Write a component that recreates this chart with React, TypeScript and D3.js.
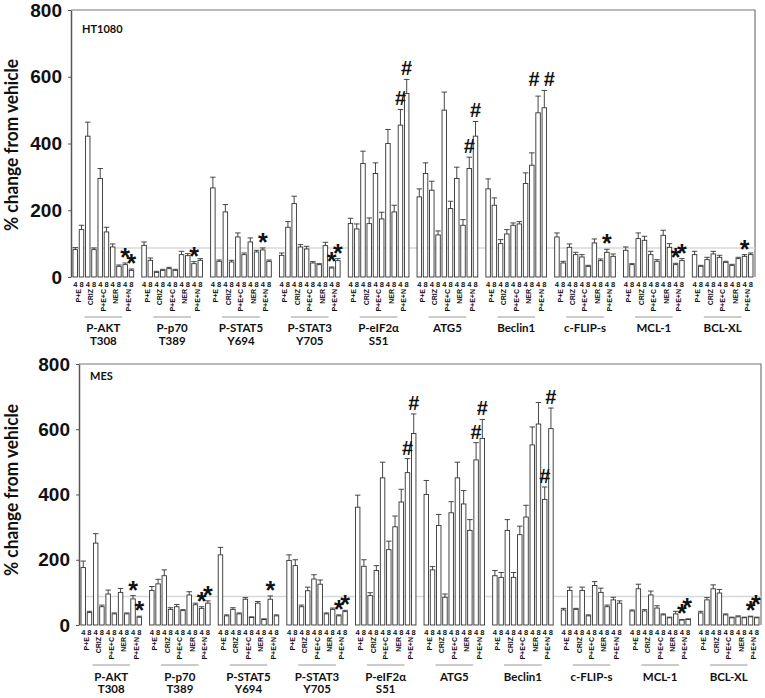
import React, { useEffect, useRef } from 'react';
import * as d3 from 'd3';

// groups along the x axis
const groupNames = ['P-AKT', 'P-p70', 'P-STAT5', 'P-STAT3', 'P-eIF2α', 'ATG5', 'Beclin1', 'c-FLIP-s', 'MCL-1', 'BCL-XL'];
const groupSites = ['T308', 'T389', 'Y694', 'Y705', 'S51', '', '', '', '', ''];
const treatments = ['P+E', 'CRIZ', 'P+E+C', 'NER', 'P+E+N'];
const timepoints = ['4', '8'];
const yTicks = [0, 200, 400, 600, 800];
const refValue = 87;

// HT1080 panel: mean % change per group, bars ordered treatment x timepoint
const htMeans = [
  [82, 142, 422, 82, 295, 135, 90, 32, 37, 20],
  [95, 50, 14, 20, 25, 20, 67, 64, 40, 50],
  [267, 47, 195, 45, 120, 67, 105, 75, 81, 47],
  [65, 149, 220, 90, 84, 42, 37, 94, 27, 49],
  [160, 144, 340, 160, 310, 174, 400, 195, 455, 550],
  [240, 310, 260, 126, 500, 205, 295, 155, 325, 422],
  [264, 215, 100, 129, 155, 159, 280, 335, 492, 507],
  [120, 42, 89, 67, 60, 32, 102, 49, 74, 62],
  [80, 37, 115, 110, 67, 47, 125, 89, 37, 49],
  [67, 32, 52, 69, 59, 44, 35, 55, 62, 67],
];
const htErrs = [
  [6, 13, 42, 5, 30, 14, 9, 4, 5, 4],
  [10, 7, 3, 3, 4, 3, 10, 6, 6, 5],
  [32, 4, 22, 5, 12, 5, 12, 5, 6, 4],
  [7, 17, 22, 7, 8, 4, 3, 10, 3, 6],
  [16, 15, 37, 17, 32, 20, 42, 20, 47, 42],
  [24, 32, 27, 12, 54, 22, 34, 17, 34, 44],
  [30, 22, 12, 13, 7, 7, 32, 37, 50, 52],
  [12, 5, 10, 7, 7, 3, 12, 5, 9, 7],
  [10, 3, 17, 12, 10, 5, 15, 11, 4, 6],
  [10, 3, 7, 8, 6, 3, 3, 4, 5, 5],
];
const htMarks = [
  '........**', '........*.', '........*.', '........**', '........##',
  '........##', '........##', '........*.', '........**', '........*.',
];

// MES panel
const mesMeans = [
  [176, 38, 251, 56, 95, 34, 100, 34, 80, 24],
  [106, 126, 151, 48, 56, 44, 92, 62, 51, 67],
  [215, 28, 48, 34, 79, 23, 67, 17, 79, 28],
  [198, 182, 56, 105, 141, 125, 34, 48, 28, 41],
  [361, 180, 90, 167, 451, 231, 301, 377, 467, 587],
  [400, 169, 305, 85, 344, 451, 371, 290, 506, 572],
  [151, 146, 290, 146, 277, 331, 552, 616, 385, 602],
  [46, 106, 48, 106, 28, 121, 100, 56, 77, 67],
  [43, 111, 43, 92, 52, 31, 22, 34, 15, 17],
  [37, 77, 111, 98, 31, 22, 25, 22, 25, 22],
];
const mesErrs = [
  [20, 4, 29, 5, 12, 3, 12, 3, 10, 3],
  [12, 14, 18, 5, 7, 3, 10, 5, 5, 7],
  [23, 3, 5, 3, 5, 2, 5, 2, 10, 3],
  [17, 18, 5, 11, 13, 13, 3, 4, 3, 4],
  [37, 20, 9, 15, 48, 26, 33, 39, 43, 60],
  [43, 10, 34, 10, 34, 48, 41, 33, 53, 58],
  [16, 15, 33, 15, 26, 36, 55, 66, 38, 63],
  [5, 10, 3, 10, 3, 12, 13, 5, 8, 7],
  [3, 14, 4, 12, 7, 3, 2, 8, 2, 2],
  [5, 7, 12, 11, 3, 2, 3, 2, 2, 2],
];
const mesMarks = [
  '........**', '........**', '........*.', '........**', '........##',
  '........##', '........##', '..........', '........**', '........**',
];

const panels = [
  { name: 'HT1080', means: htMeans, errs: htErrs, marks: htMarks,
    x0: 71, x1: 755, yTop: 10, yBot: 277, titleY: 145, nameX: 82, nameY: 33,
    lineY: 317, labY: 332, siteY: 345 },
  { name: 'MES', means: mesMeans, errs: mesErrs, marks: mesMarks,
    x0: 79, x1: 761, yTop: 364, yBot: 625, titleY: 490, nameX: 90, nameY: 380,
    lineY: 665, labY: 681, siteY: 693 },
];

const App = () => {
  const chartRef = useRef(null);

  useEffect(() => {
    document.body.style.margin = '0';
    d3.select(chartRef.current).selectAll('*').remove();

    const svg = d3
      .select(chartRef.current)
      .append('svg')
      .attr('width', 765)
      .attr('height', 698)
      .style('display', 'block')
      .style('background', '#fff');

    panels.forEach(p => {
      const g = svg.append('g');

      const gx = d3.scaleBand().domain(groupNames).range([p.x0, p.x1]).paddingInner(0.1).paddingOuter(0.02);
      const bx = d3.scaleBand().domain(d3.range(10)).range([0, gx.bandwidth()]).paddingInner(0.28).paddingOuter(0.1);
      const y = d3.scaleLinear().domain([0, 800]).range([p.yBot, p.yTop]);
      const bw = bx.bandwidth();

      // frame (top and right)
      g.append('path')
        .attr('d', `M${p.x0},${p.yTop}H${p.x1}V${p.yBot}`)
        .attr('fill', 'none')
        .attr('stroke', '#777')
        .attr('stroke-width', 1.2);

      // reference line
      g.append('line')
        .attr('x1', p.x0).attr('x2', p.x1)
        .attr('y1', y(refValue)).attr('y2', y(refValue))
        .attr('stroke', '#d8d8d8')
        .attr('stroke-width', 1.5);

      // y axis
      const axis = g.append('g')
        .attr('transform', `translate(${p.x0},0)`)
        .call(d3.axisLeft(y).tickValues(yTicks).tickSize(3).tickPadding(6).tickSizeOuter(0));
      axis.select('.domain').attr('stroke', '#555').attr('stroke-width', 1.5);
      axis.selectAll('.tick line').attr('stroke', '#555');
      axis.selectAll('.tick text')
        .attr('fill', '#111')
        .style('font-size', '19px')
        .style('font-weight', 'bold')
        .style('font-family', "'Liberation Sans', Arial, sans-serif");

      g.append('text')
        .attr('transform', `translate(18,${p.titleY}) rotate(-90)`)
        .attr('text-anchor', 'middle')
        .attr('textLength', 172)
        .attr('lengthAdjust', 'spacingAndGlyphs')
        .style('font-size', '18px')
        .style('font-family', "Lato, 'Open Sans', sans-serif")
        .style('font-weight', 'bold')
        .attr('fill', '#111')
        .text('% change from vehicle');

      g.append('text')
        .attr('x', p.nameX)
        .attr('y', p.nameY)
        .style('font-size', '11px')
        .style('font-weight', 'bold')
        .style('font-family', "Lato, 'Open Sans', sans-serif")
        .attr('fill', '#111')
        .text(p.name);

      groupNames.forEach((gn, gi) => {
        const gg = g.append('g').attr('transform', `translate(${gx(gn)},0)`);
        const means = p.means[gi];
        const errs = p.errs[gi];

        // bars
        gg.selectAll('rect.bar')
          .data(means)
          .enter()
          .append('rect')
          .attr('class', 'bar')
          .attr('x', (d, i) => bx(i))
          .attr('y', d => y(d))
          .attr('width', bw)
          .attr('height', d => y(0) - y(d))
          .attr('fill', '#fff')
          .attr('stroke', '#333')
          .attr('stroke-width', 0.9);

        // error bars
        const eb = gg.selectAll('g.err')
          .data(means.map((m, i) => ({ m, e: errs[i], i })))
          .enter()
          .append('g')
          .attr('class', 'err')
          .attr('stroke', '#333')
          .attr('stroke-width', 0.9);
        eb.append('line')
          .attr('x1', d => bx(d.i) + bw / 2).attr('x2', d => bx(d.i) + bw / 2)
          .attr('y1', d => y(d.m)).attr('y2', d => y(d.m + d.e));
        eb.append('line')
          .attr('x1', d => bx(d.i) - 0.5).attr('x2', d => bx(d.i) + bw + 0.5)
          .attr('y1', d => y(d.m + d.e)).attr('y2', d => y(d.m + d.e));

        // significance marks; neighbours at similar heights are spread apart
        const marks = p.marks[gi].split('');
        const tops = means.map((m, i) => y(m + errs[i]));
        const shift = means.map(() => 0);
        marks.forEach((s, i) => {
          const next = marks[i + 1];
          if (s === '#' && next === '#' && Math.abs(tops[i] - tops[i + 1]) < 8) {
            const t = Math.min(tops[i], tops[i + 1]);
            tops[i] = t;
            tops[i + 1] = t;
            shift[i] = -4;
            shift[i + 1] = 5;
          } else if (s === '*' && next === '*' && Math.abs(tops[i] - tops[i + 1]) < 4) {
            tops[i + 1] = Math.min(tops[i], tops[i + 1]) - 6;
            shift[i + 1] = -1;
          }
        });
        marks.forEach((s, i) => {
          if (s === '.') return;
          gg.append('text')
            .attr('x', bx(i) + bw / 2 + shift[i])
            .attr('y', s === '#' ? tops[i] - 4 : tops[i] + 3)
            .attr('text-anchor', 'middle')
            .style('font-size', s === '#' ? '20px' : '25px')
            .style('font-weight', 'bold')
            .style('font-family', "'Liberation Sans', Arial, sans-serif")
            .attr('fill', '#111')
            .text(s);
        });

        // timepoint labels under each bar
        gg.selectAll('text.tp')
          .data(d3.range(10))
          .enter()
          .append('text')
          .attr('class', 'tp')
          .attr('x', i => bx(i) + bw / 2)
          .attr('y', p.yBot + 9.5)
          .attr('text-anchor', 'middle')
          .style('font-size', '7.5px')
          .style('font-weight', 'bold')
          .style('font-family', "'Liberation Sans', Arial, sans-serif")
          .attr('fill', '#111')
          .text(i => timepoints[i % 2]);

        // treatment labels
        treatments.forEach((t, k) => {
          const cx = (bx(2 * k) + bx(2 * k + 1) + bw) / 2;
          gg.append('text')
            .attr('transform', `translate(${cx},${p.yBot + 12}) rotate(-90)`)
            .attr('text-anchor', 'end')
            .attr('dy', '0.35em')
            .style('font-size', '7px')
            .style('font-weight', 'bold')
            .style('font-family', "'Liberation Sans', Arial, sans-serif")
            .attr('fill', '#111')
            .text(t);
        });

        gg.append('line')
          .attr('x1', bx(2) - 1).attr('x2', bx(7) + bw + 1)
          .attr('y1', p.lineY).attr('y2', p.lineY)
          .attr('stroke', '#bbb')
          .attr('stroke-width', 1.5);

        gg.append('text')
          .attr('x', gx.bandwidth() / 2)
          .attr('y', p.labY)
          .attr('text-anchor', 'middle')
          .style('font-size', '11.5px')
          .style('font-weight', 'bold')
          .style('font-family', "Lato, 'Open Sans', sans-serif")
          .attr('fill', '#111')
          .text(gn);

        if (groupSites[gi]) {
          gg.append('text')
            .attr('x', gx.bandwidth() / 2)
            .attr('y', p.siteY)
            .attr('text-anchor', 'middle')
            .style('font-size', '11.5px')
            .style('font-weight', 'bold')
            .style('font-family', "Lato, 'Open Sans', sans-serif")
            .attr('fill', '#111')
            .text(groupSites[gi]);
        }
      });
    });
  }, []);

  return <div ref={chartRef}></div>;
};

export default App;
